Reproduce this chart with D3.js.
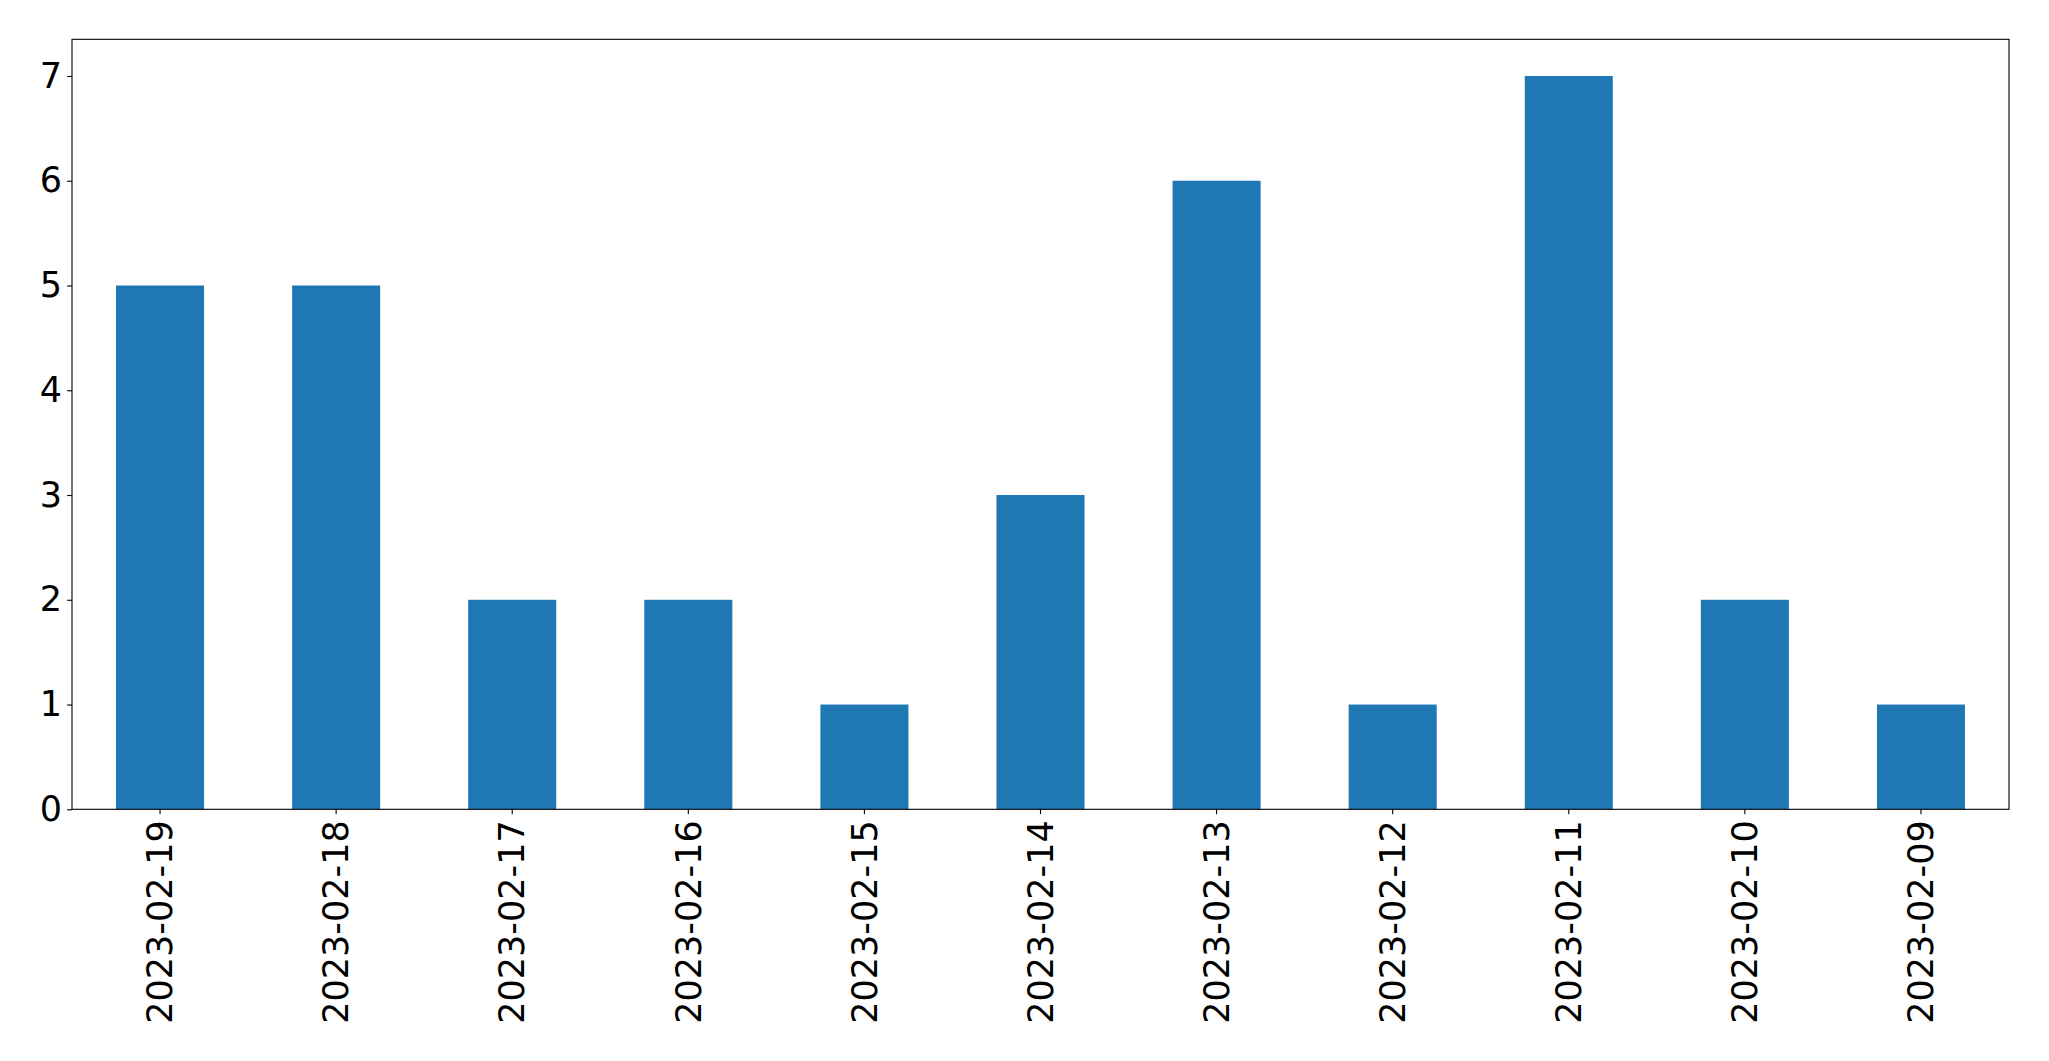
<!DOCTYPE html>
<html>
<head>
<meta charset="utf-8">
<script src="https://cdn.jsdelivr.net/npm/d3@7"></script>
<style>
  html, body { margin: 0; padding: 0; background: #fff; }
  svg { display: block; }
</style>
</head>
<body>
<svg id="chart" width="2049" height="1061"></svg>
<script>
const categories = ["2023-02-19","2023-02-18","2023-02-17","2023-02-16","2023-02-15","2023-02-14","2023-02-13","2023-02-12","2023-02-11","2023-02-10","2023-02-09"];
const values = [5, 5, 2, 2, 1, 3, 6, 1, 7, 2, 1];
const yTicks = [0, 1, 2, 3, 4, 5, 6, 7];

const W = 2049, H = 1061;
const m = { left: 72, right: 2049 - 2009, top: 39.3, bottom: 1061 - 809.3 };
const iw = W - m.left - m.right, ih = H - m.top - m.bottom;

const svg = d3.select("#chart");
const g = svg.append("g").attr("transform", `translate(${m.left},${m.top})`);

const x = d3.scaleBand().domain(categories).range([0, iw]).paddingInner(0.5).paddingOuter(0.25);
const yMax = d3.max(values) * 1.05;
const y = d3.scaleLinear().domain([0, yMax]).range([ih, 0]);

g.selectAll("rect.bar").data(values).join("rect")
  .attr("class", "bar")
  .attr("x", (d, i) => x(categories[i]))
  .attr("width", x.bandwidth())
  .attr("y", d => y(d))
  .attr("height", d => y(0) - y(d))
  .attr("fill", "#1f77b4");

const fontFam = "'DejaVu Sans', sans-serif";
const fs = 35;

const yAxis = g.append("g").call(d3.axisLeft(y).tickValues(yTicks).tickFormat(d3.format("d")).tickSize(4.9).tickPadding(5));
yAxis.select(".domain").remove();
yAxis.selectAll("text").attr("font-family", fontFam).attr("font-size", fs).attr("fill", "#000");
yAxis.selectAll("line").attr("stroke", "#000").attr("stroke-width", 1.1);

const xAxis = g.append("g").attr("transform", `translate(0,${ih})`)
  .call(d3.axisBottom(x).tickSize(4.9).tickPadding(0));
xAxis.select(".domain").remove();
xAxis.selectAll("line").attr("stroke", "#000").attr("stroke-width", 1.1);
xAxis.selectAll("text")
  .attr("font-family", fontFam).attr("font-size", fs).attr("fill", "#000")
  .attr("transform", "rotate(-90)")
  .attr("text-anchor", "end")
  .attr("x", -11)
  .attr("y", 0)
  .attr("dy", "0.35em");

g.append("rect").attr("x", 0).attr("y", 0).attr("width", iw).attr("height", ih)
  .attr("fill", "none").attr("stroke", "#000").attr("stroke-width", 1.1);
</script>
</body>
</html>
